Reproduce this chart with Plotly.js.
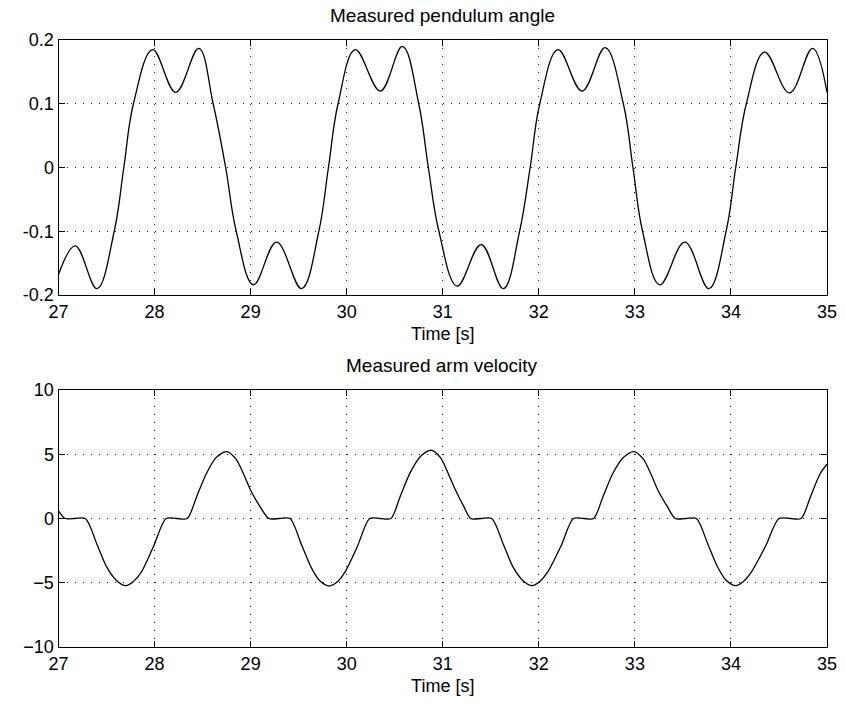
<!DOCTYPE html>
<html>
<head>
<meta charset="utf-8">
<script src="https://cdn.plot.ly/plotly-3.0.1.min.js"></script>
<style>html,body{margin:0;padding:0;background:#fff;}#chart{width:845px;height:704px;}</style>
</head>
<body>
<div id="chart"></div>
<script>
// ---- Measured pendulum angle ----
var angleTime = [27.00, 27.175, 27.40, 27.58, 27.68, 27.78, 27.98, 28.22, 28.46, 28.61, 28.74, 28.85,
  29.03, 29.27, 29.53, 29.71, 29.81, 29.91, 30.09, 30.35, 30.58, 30.75, 30.85, 30.96,
  31.15, 31.40, 31.63, 31.80, 31.91, 32.01, 32.20, 32.45, 32.69, 32.88, 32.98, 33.08,
  33.26, 33.52, 33.77, 33.95, 34.05, 34.16, 34.35, 34.61, 34.85, 35.00];
var angleValue = [-0.168, -0.123, -0.190, -0.100, 0.000, 0.100, 0.185, 0.118, 0.187, 0.100, 0.000, -0.100,
  -0.184, -0.117, -0.190, -0.100, 0.000, 0.100, 0.185, 0.120, 0.190, 0.100, 0.000, -0.100,
  -0.186, -0.121, -0.190, -0.100, 0.000, 0.100, 0.185, 0.120, 0.188, 0.100, 0.000, -0.100,
  -0.184, -0.117, -0.190, -0.100, 0.000, 0.100, 0.181, 0.117, 0.187, 0.118];

// ---- Measured arm velocity ----
var velTime = [27.00, 27.07, 27.17, 27.28, 27.40, 27.50, 27.60, 27.70, 27.78, 27.86, 27.99, 28.12, 28.23, 28.34, 28.44, 28.54, 28.64, 28.75, 28.85, 28.93, 29.00, 29.10, 29.19,
  29.30, 29.41, 29.53, 29.63, 29.72, 29.82, 29.90, 29.98, 30.11, 30.24, 30.35, 30.46, 30.56, 30.66, 30.77, 30.88, 30.98, 31.06, 31.13, 31.22, 31.29,
  31.40, 31.51, 31.63, 31.73, 31.83, 31.93, 32.01, 32.09, 32.23, 32.36, 32.47, 32.57, 32.67, 32.77, 32.88, 32.99, 33.09, 33.17, 33.24, 33.34, 33.42,
  33.53, 33.64, 33.76, 33.86, 33.95, 34.05, 34.13, 34.21, 34.36, 34.50, 34.62, 34.73, 34.83, 34.93, 35.00];
var velValue = [0.6, 0.0, 0.0, 0.0, -2.0, -3.75, -4.8, -5.23, -4.9, -4.2, -2.16, 0.0, 0.0, 0.0, 1.74, 3.5, 4.74, 5.21, 4.6, 3.4, 2.2, 0.9, 0.0,
  0.0, 0.0, -2.05, -3.8, -4.85, -5.26, -4.95, -4.2, -2.2, 0.0, 0.0, 0.0, 1.78, 3.55, 4.84, 5.31, 4.7, 3.45, 2.25, 0.92, 0.0,
  0.0, 0.0, -2.0, -3.75, -4.8, -5.23, -4.9, -4.2, -2.16, 0.0, 0.0, 0.0, 1.74, 3.5, 4.74, 5.21, 4.6, 3.4, 2.2, 0.9, 0.0,
  0.0, 0.0, -2.0, -3.75, -4.8, -5.23, -4.9, -4.2, -2.16, 0.0, 0.0, 0.0, 1.74, 3.5, 4.22];

var xTicks = [27, 28, 29, 30, 31, 32, 33, 34, 35];
var angleTicks = [-0.2, -0.1, 0, 0.1, 0.2];
var angleTickText = ['-0.2', '-0.1', '0', '0.1', '0.2'];
var velTicks = [-10, -5, 0, 5, 10];
var velTickText = ['\u221210', '\u22125', '0', '5', '10'];

var FONT = 'Liberation Sans, Arial, sans-serif';

var traces = [
  {x: angleTime, y: angleValue, type: 'scatter', mode: 'lines',
   line: {color: '#000', width: 1.3, shape: 'spline', smoothing: 1.1}, xaxis: 'x', yaxis: 'y', hoverinfo: 'skip'},
  {x: velTime, y: velValue, type: 'scatter', mode: 'lines',
   line: {color: '#000', width: 1.3, shape: 'spline', smoothing: 0.8}, xaxis: 'x2', yaxis: 'y2', hoverinfo: 'skip'}
];

function xAxis(anchor) {
  return {
    anchor: anchor, domain: [58.5 / 845, 827 / 845], range: [27, 35],
    tickvals: xTicks, ticktext: xTicks.map(String),
    ticks: 'inside', ticklen: 6, tickcolor: '#000', tickwidth: 1,
    showline: true, linecolor: '#000', linewidth: 1, mirror: 'ticks',
    showgrid: true, gridcolor: '#222', gridwidth: 1, griddash: '1px,7px',
    zeroline: false,
    tickfont: {family: FONT, size: 18, color: '#000'},
    title: {text: 'Time [s]', font: {family: FONT, size: 18, color: '#000'}, standoff: 6}
  };
}
function yAxis(anchor, dom, rng, vals, text) {
  return {
    anchor: anchor, domain: dom, range: rng,
    tickvals: vals, ticktext: text,
    ticks: 'inside', ticklen: 6, tickcolor: '#000', tickwidth: 1,
    showline: true, linecolor: '#000', linewidth: 1, mirror: 'ticks',
    showgrid: true, gridcolor: '#222', gridwidth: 1, griddash: '1px,7px',
    zeroline: false,
    tickfont: {family: FONT, size: 18, color: '#000'}
  };
}

var H = 704;
var layout = {
  width: 845, height: 704,
  margin: {l: 0, r: 0, t: 0, b: 0},
  paper_bgcolor: '#fff', plot_bgcolor: '#fff',
  showlegend: false,
  xaxis: xAxis('y'),
  yaxis: yAxis('x', [(H - 295) / H, (H - 40) / H], [-0.2, 0.2], angleTicks, angleTickText),
  xaxis2: xAxis('y2'),
  yaxis2: yAxis('x2', [(H - 647) / H, (H - 390) / H], [-10, 10], velTicks, velTickText),
  annotations: [
    {text: 'Measured pendulum angle', xref: 'paper', yref: 'paper', x: 442 / 845, y: (H - 28) / H,
     xanchor: 'center', yanchor: 'bottom', showarrow: false, font: {family: FONT, size: 19, color: '#000'}},
    {text: 'Measured arm velocity', xref: 'paper', yref: 'paper', x: 442 / 845, y: (H - 378) / H,
     xanchor: 'center', yanchor: 'bottom', showarrow: false, font: {family: FONT, size: 19, color: '#000'}}
  ]
};

Plotly.newPlot('chart', traces, layout, {staticPlot: true, displayModeBar: false});
</script>
</body>
</html>
